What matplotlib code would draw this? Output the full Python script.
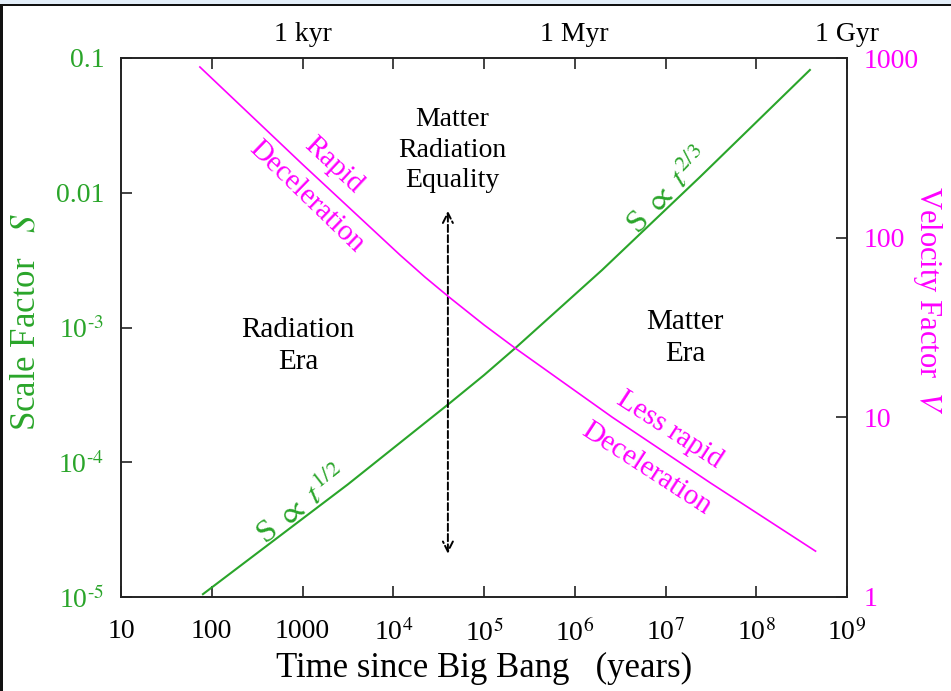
import matplotlib
matplotlib.use("Agg")
import matplotlib.pyplot as plt
from matplotlib.patches import Rectangle
from matplotlib.ticker import FixedLocator, FixedFormatter, NullLocator

plt.rcParams['font.family'] = 'serif'
plt.rcParams['font.serif'] = ['Liberation Serif', 'DejaVu Serif']
plt.rcParams['mathtext.fontset'] = 'stix'

# scale factor S (green, left axis)
t_scale = [80, 3.16e3, 4.2e4, 1.0e5, 2.3e5, 2.0e6, 2.4e7, 3.9e8]
scale = [1.05e-5, 6.85e-5, 2.75e-4, 4.43e-4, 7.2e-4, 2.67e-3, 1.31e-2, 8.15e-2]

# velocity factor V (magenta, right axis)
t_vel = [74, 1.0e3, 1.19e4, 2.24e4, 4.1e4, 1.0e5, 2.2e5, 2.6e6, 3.16e7, 4.5e8]
velocity = [891, 256, 80, 60.3, 46.8, 32.7, 24.3, 10.0, 4.3, 1.8]

# matter-radiation equality marker
t_eq = 4.0e4
eq_span = [2.0e-5, 7.7e-3]

x_ticks = [10, 1e2, 1e3, 1e4, 1e5, 1e6, 1e7, 1e8, 1e9]
x_labels = ['10', '100', '1000', '10$^{4}$', '10$^{5}$', '10$^{6}$',
            '10$^{7}$', '10$^{8}$', '10$^{9}$']
top_ticks = [1e3, 1e6, 1e9]
top_labels = ['1 kyr', '1 Myr', '1 Gyr']
s_ticks = [1e-5, 1e-4, 1e-3, 1e-2, 1e-1]
s_labels = [r'10$^{\text{-5}}$', r'10$^{\text{-4}}$', r'10$^{\text{-3}}$', '0.01', '0.1']
v_ticks = [1, 10, 100, 1000]
v_labels = ['1', '10', '100', '1000']

green = '#2aa52a'
magenta = '#ff00ff'
spine_col = '#222222'

fig = plt.figure(figsize=(9.51, 6.91), dpi=100)
ax = fig.add_axes([121/951, 94/691, 726/951, 539/691])

ax.plot(t_scale, scale, color=green, lw=1.5)
ax.set_xscale('log')
ax.set_yscale('log')
ax.set_xlim(10, 1e9)
ax.set_ylim(1e-5, 0.1)

ax.xaxis.set_major_locator(FixedLocator(x_ticks))
ax.xaxis.set_major_formatter(FixedFormatter(x_labels))
ax.xaxis.set_minor_locator(NullLocator())
ax.yaxis.set_major_locator(FixedLocator(s_ticks))
ax.yaxis.set_major_formatter(FixedFormatter(s_labels))
ax.yaxis.set_minor_locator(NullLocator())
ax.tick_params(axis='x', direction='in', length=8, width=1.2, color=spine_col,
               labelsize=20, pad=16, top=True)
ax.tick_params(axis='y', direction='in', length=8, width=1.2, color=spine_col,
               labelsize=20, labelcolor=green, pad=12)

ax.set_xlabel('Time since Big Bang   (years)', fontsize=25, labelpad=4)
ax.set_ylabel('Scale Factor   $S$', fontsize=25, color=green)
ax.yaxis.set_label_coords(-0.108, 0.51)

ax2 = ax.twinx()
ax2.plot(t_vel, velocity, color=magenta, lw=1.2)
ax2.set_yscale('log')
ax2.set_ylim(1, 1000)
ax2.yaxis.set_major_locator(FixedLocator(v_ticks))
ax2.yaxis.set_major_formatter(FixedFormatter(v_labels))
ax2.yaxis.set_minor_locator(NullLocator())
ax2.tick_params(axis='y', direction='in', length=8, width=1.2, color=spine_col,
                labelsize=20, labelcolor=magenta, pad=12)
ax2.set_ylabel('Velocity Factor  $V$', fontsize=22, color=magenta,
               rotation=270, va='bottom')
ax2.yaxis.set_label_coords(1.088, 0.55)

top = ax.secondary_xaxis('top')
top.xaxis.set_major_locator(FixedLocator(top_ticks))
top.xaxis.set_major_formatter(FixedFormatter(top_labels))
top.xaxis.set_minor_locator(NullLocator())
top.tick_params(length=0, labelsize=20, pad=8)
top.spines['top'].set_visible(False)

for a in (ax, ax2):
    for s in a.spines.values():
        s.set_color(spine_col)
        s.set_linewidth(1.2)

ax.annotate('', xy=(t_eq, eq_span[1]), xytext=(t_eq, eq_span[0]),
            arrowprops=dict(arrowstyle='<->', linestyle='--', color='black',
                            lw=1.4, mutation_scale=18))

tr = ax.transAxes
ax.text(0.456, 0.829, 'Matter\nRadiation\nEquality', transform=tr, fontsize=20,
        ha='center', va='center', linespacing=1.3)
ax.text(0.244, 0.466, 'Radiation\nEra', transform=tr, fontsize=21,
        ha='center', va='center', linespacing=1.3)
ax.text(0.777, 0.481, 'Matter\nEra', transform=tr, fontsize=21,
        ha='center', va='center', linespacing=1.3)
ax.text(0.292, 0.801, 'Rapid', transform=tr, fontsize=21, color=magenta,
        rotation=-43, ha='center', va='center')
ax.text(0.255, 0.742, 'Deceleration', transform=tr, fontsize=21, color=magenta,
        rotation=-44, ha='center', va='center')
ax.text(0.756, 0.310, 'Less rapid', transform=tr, fontsize=21, color=magenta,
        rotation=-33, ha='center', va='center')
ax.text(0.723, 0.239, 'Deceleration', transform=tr, fontsize=21, color=magenta,
        rotation=-33, ha='center', va='center')
ax.text(0.25, 0.17, r'S $\propto$ $t^{1/2}$', transform=tr, fontsize=23,
        color=green, rotation=38, ha='center', va='center')
ax.text(0.755, 0.752, r'S $\propto$ $t^{2/3}$', transform=tr, fontsize=23,
        color=green, rotation=46, ha='center', va='center')

# screenshot frame edges
fig.add_artist(Rectangle((0, 1 - 4/691), 1, 4/691, transform=fig.transFigure,
                         color='#e3eef9', lw=0))
fig.add_artist(Rectangle((0, 1 - 6/691), 1, 2/691, transform=fig.transFigure,
                         color='#111111', lw=0))
fig.add_artist(Rectangle((0, 0), 3/951, 1 - 4/691, transform=fig.transFigure,
                         color='#111111', lw=0))

fig.savefig('out.png', dpi=100)
